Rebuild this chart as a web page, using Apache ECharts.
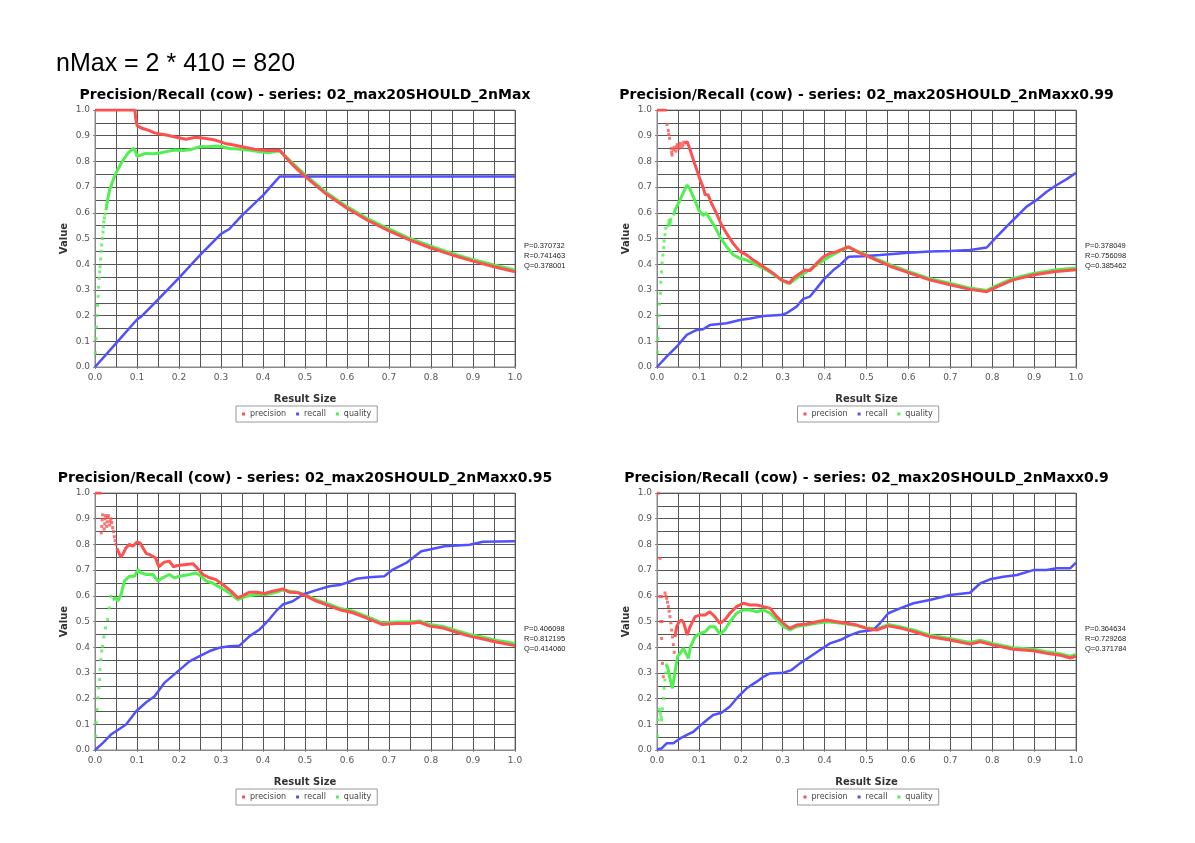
<!DOCTYPE html>
<html>
<head>
<meta charset="utf-8">
<script src="https://cdn.jsdelivr.net/npm/echarts@6/dist/echarts.min.js"></script>
<style>
  html, body { margin: 0; padding: 0; background: #ffffff; }
  #main { width: 1195px; height: 843px; }
</style>
</head>
<body>
<div id="main"></div>
<script>
// ---- headline and chart titles ----
const headline = 'nMax = 2 * 410 = 820';
const chartTitles = [
  'Precision/Recall (cow) - series: 02_max20SHOULD_2nMax',
  'Precision/Recall (cow) - series: 02_max20SHOULD_2nMaxx0.99',
  'Precision/Recall (cow) - series: 02_max20SHOULD_2nMaxx0.95',
  'Precision/Recall (cow) - series: 02_max20SHOULD_2nMaxx0.9'
];
const seriesNames = ['precision', 'recall', 'quality'];

// final P / R / Q values at result size 1.0
const c1Stats = [0.370732, 0.741463, 0.378001];
const c2Stats = [0.378049, 0.756098, 0.385462];
const c3Stats = [0.406098, 0.812195, 0.414060];
const c4Stats = [0.364634, 0.729268, 0.371784];

// ---- chart 1: 2nMax ----
const c1Precision = [[0,1],[0.095,1],[0.097,0.965],[0.1,0.94],[0.105,0.935],[0.11,0.93],[0.12,0.925],[0.13,0.92],[0.14,0.912],[0.15,0.908],[0.17,0.903],[0.193,0.894],[0.217,0.886],[0.24,0.894],[0.26,0.89],[0.286,0.883],[0.31,0.87],[0.33,0.864],[0.35,0.857],[0.38,0.847],[0.41,0.842],[0.43,0.842],[0.44,0.842],[0.46,0.805],[0.48,0.772],[0.5,0.742],[0.55,0.674],[0.6,0.618],[0.65,0.57],[0.7,0.53],[0.75,0.494],[0.8,0.463],[0.85,0.436],[0.9,0.412],[0.95,0.39],[1.0,c1Stats[0]]];
const c1Recall = [[0,0],[0.05,0.092],[0.1,0.185],[0.11,0.196],[0.15,0.262],[0.2,0.347],[0.25,0.435],[0.3,0.518],[0.32,0.537],[0.35,0.59],[0.4,0.668],[0.44,c1Stats[1]],[1.0,c1Stats[1]]];
const c1QualityDots = [[0.001,0.055],[0.0025,0.11],[0.0035,0.155],[0.005,0.2],[0.006,0.24],[0.0075,0.275],[0.0085,0.31],[0.01,0.345],[0.011,0.37],[0.012,0.39],[0.0135,0.42],[0.015,0.45],[0.016,0.475],[0.0175,0.5],[0.019,0.525],[0.02,0.545],[0.021,0.565],[0.0225,0.58],[0.024,0.595]];
const c1Quality = [[0.026,0.61],[0.03,0.65],[0.035,0.69],[0.043,0.727],[0.05,0.755],[0.06,0.786],[0.07,0.812],[0.08,0.835],[0.093,0.852],[0.097,0.835],[0.1,0.82],[0.11,0.825],[0.12,0.831],[0.14,0.83],[0.155,0.833],[0.17,0.838],[0.19,0.844],[0.21,0.842],[0.225,0.845],[0.25,0.857],[0.27,0.857],[0.29,0.86],[0.3,0.858],[0.32,0.85],[0.34,0.848],[0.365,0.844],[0.39,0.838],[0.41,0.834],[0.43,0.838],[0.44,0.84],[0.46,0.81],[0.5,0.748],[0.55,0.68],[0.6,0.624],[0.65,0.576],[0.7,0.537],[0.75,0.5],[0.8,0.47],[0.85,0.442],[0.9,0.418],[0.95,0.397],[1.0,c1Stats[2]]];

// ---- chart 2: 2nMaxx0.99 ----
const c2PrecisionTop = [[0,1],[0.023,1]];
const c2PrecisionDots = [[0.024,0.944],[0.027,0.92],[0.028,0.905],[0.03,0.89],[0.034,0.85],[0.035,0.835],[0.036,0.825],[0.04,0.845],[0.041,0.855],[0.045,0.84],[0.047,0.855],[0.048,0.865],[0.052,0.85],[0.054,0.86],[0.056,0.87],[0.06,0.855],[0.062,0.865],[0.064,0.875]];
const c2Precision = [[0.066,0.87],[0.072,0.877],[0.08,0.84],[0.088,0.8],[0.095,0.767],[0.103,0.728],[0.11,0.7],[0.115,0.67],[0.122,0.67],[0.13,0.637],[0.142,0.598],[0.154,0.553],[0.166,0.52],[0.182,0.48],[0.198,0.449],[0.214,0.436],[0.23,0.416],[0.254,0.39],[0.278,0.364],[0.297,0.338],[0.309,0.332],[0.316,0.326],[0.325,0.345],[0.341,0.364],[0.353,0.377],[0.365,0.375],[0.381,0.403],[0.397,0.429],[0.413,0.442],[0.429,0.449],[0.457,0.468],[0.477,0.449],[0.5,0.432],[0.532,0.41],[0.56,0.39],[0.6,0.367],[0.651,0.339],[0.699,0.32],[0.747,0.302],[0.787,0.293],[0.811,0.312],[0.85,0.339],[0.898,0.358],[0.946,0.371],[1.0,c2Stats[0]]];
const c2Recall = [[0,0],[0.023,0.04],[0.047,0.079],[0.071,0.125],[0.095,0.144],[0.11,0.147],[0.126,0.163],[0.166,0.17],[0.198,0.183],[0.222,0.189],[0.254,0.198],[0.294,0.202],[0.309,0.209],[0.333,0.235],[0.349,0.265],[0.365,0.274],[0.381,0.306],[0.397,0.339],[0.421,0.377],[0.437,0.397],[0.457,0.429],[0.492,0.431],[0.532,0.436],[0.6,0.445],[0.651,0.449],[0.699,0.451],[0.747,0.455],[0.787,0.465],[0.811,0.507],[0.85,0.572],[0.882,0.624],[0.906,0.65],[0.93,0.682],[0.954,0.708],[0.978,0.731],[1.0,c2Stats[1]]];
const c2QualityDots = [[0.001,0.057],[0.002,0.11],[0.003,0.157],[0.005,0.2],[0.006,0.245],[0.008,0.287],[0.009,0.33],[0.011,0.37],[0.012,0.405],[0.014,0.435],[0.016,0.465],[0.017,0.49],[0.019,0.515],[0.021,0.54],[0.027,0.55],[0.028,0.56],[0.029,0.57],[0.031,0.555],[0.032,0.565],[0.033,0.575]];
const c2Quality = [[0.039,0.59],[0.043,0.61],[0.055,0.65],[0.066,0.689],[0.072,0.708],[0.078,0.695],[0.09,0.65],[0.1,0.61],[0.11,0.59],[0.118,0.598],[0.126,0.578],[0.138,0.546],[0.15,0.507],[0.166,0.468],[0.182,0.436],[0.198,0.423],[0.214,0.416],[0.238,0.397],[0.262,0.377],[0.286,0.351],[0.309,0.328],[0.317,0.326],[0.333,0.345],[0.357,0.371],[0.381,0.397],[0.405,0.423],[0.429,0.445],[0.457,0.466],[0.477,0.452],[0.5,0.436],[0.532,0.415],[0.56,0.395],[0.6,0.372],[0.651,0.344],[0.699,0.326],[0.747,0.307],[0.787,0.298],[0.811,0.318],[0.85,0.345],[0.898,0.364],[0.946,0.377],[1.0,c2Stats[2]]];

// ---- chart 3: 2nMaxx0.95 ----
const c3PrecisionTop = [[0,1],[0.015,1]];
const c3PrecisionDots = [[0.015,0.845],[0.016,0.87],[0.017,0.895],[0.018,0.915],[0.022,0.86],[0.023,0.88],[0.024,0.9],[0.025,0.912],[0.028,0.87],[0.029,0.888],[0.03,0.905],[0.032,0.912],[0.035,0.875],[0.036,0.89],[0.038,0.9],[0.04,0.885],[0.042,0.865],[0.044,0.85],[0.046,0.83],[0.048,0.815],[0.05,0.8]];
const c3Precision = [[0.052,0.785],[0.054,0.78],[0.061,0.752],[0.066,0.761],[0.074,0.787],[0.082,0.8],[0.09,0.793],[0.1,0.809],[0.107,0.806],[0.114,0.787],[0.122,0.765],[0.134,0.757],[0.144,0.748],[0.152,0.713],[0.165,0.731],[0.177,0.735],[0.187,0.713],[0.197,0.718],[0.217,0.722],[0.233,0.725],[0.245,0.705],[0.257,0.683],[0.273,0.67],[0.288,0.663],[0.304,0.644],[0.324,0.618],[0.34,0.592],[0.352,0.601],[0.368,0.614],[0.384,0.614],[0.404,0.609],[0.423,0.618],[0.447,0.627],[0.463,0.614],[0.483,0.612],[0.503,0.599],[0.527,0.579],[0.55,0.566],[0.582,0.546],[0.614,0.534],[0.646,0.514],[0.685,0.488],[0.717,0.492],[0.749,0.492],[0.773,0.497],[0.797,0.482],[0.828,0.475],[0.86,0.458],[0.892,0.443],[0.924,0.432],[0.955,0.42],[1.0,c3Stats[0]]];
const c3Recall = [[0,0],[0.019,0.028],[0.038,0.06],[0.058,0.082],[0.074,0.099],[0.098,0.151],[0.122,0.186],[0.142,0.209],[0.165,0.261],[0.193,0.3],[0.225,0.345],[0.249,0.365],[0.273,0.385],[0.296,0.398],[0.32,0.404],[0.344,0.406],[0.368,0.443],[0.392,0.469],[0.411,0.501],[0.431,0.54],[0.447,0.566],[0.471,0.579],[0.495,0.605],[0.527,0.622],[0.558,0.637],[0.582,0.642],[0.598,0.65],[0.622,0.666],[0.653,0.672],[0.689,0.676],[0.709,0.702],[0.741,0.728],[0.777,0.773],[0.797,0.78],[0.832,0.793],[0.892,0.799],[0.924,0.81],[1.0,c3Stats[1]]];
const c3QualityDots = [[0.002,0.054],[0.003,0.106],[0.005,0.158],[0.007,0.203],[0.009,0.242],[0.011,0.274],[0.012,0.313],[0.014,0.352],[0.016,0.385],[0.018,0.404],[0.021,0.44],[0.025,0.475],[0.03,0.508],[0.034,0.553],[0.037,0.598]];
const c3Quality = [[0.042,0.585],[0.05,0.592],[0.054,0.579],[0.062,0.605],[0.07,0.657],[0.082,0.676],[0.094,0.676],[0.102,0.702],[0.11,0.689],[0.122,0.683],[0.138,0.683],[0.15,0.657],[0.161,0.67],[0.177,0.683],[0.189,0.67],[0.201,0.676],[0.225,0.683],[0.241,0.689],[0.253,0.676],[0.265,0.657],[0.28,0.65],[0.3,0.631],[0.32,0.611],[0.34,0.585],[0.36,0.598],[0.384,0.605],[0.408,0.605],[0.431,0.614],[0.447,0.622],[0.479,0.615],[0.503,0.603],[0.527,0.584],[0.55,0.571],[0.582,0.552],[0.614,0.54],[0.646,0.52],[0.685,0.494],[0.717,0.498],[0.749,0.498],[0.773,0.502],[0.797,0.488],[0.828,0.481],[0.86,0.465],[0.892,0.45],[0.924,0.439],[0.955,0.427],[1.0,c3Stats[2]]];

// ---- chart 4: 2nMaxx0.9 ----
const c4PrecisionDots = [[0.003,0.999],[0.007,0.746],[0.007,0.597],[0.011,0.597],[0.009,0.5],[0.012,0.5],[0.011,0.434],[0.013,0.337],[0.015,0.285],[0.019,0.611],[0.021,0.6],[0.023,0.59],[0.025,0.575],[0.027,0.558],[0.029,0.54],[0.031,0.519],[0.033,0.495],[0.035,0.467],[0.037,0.44],[0.039,0.41],[0.041,0.38]];
const c4Precision = [[0.043,0.44],[0.047,0.48],[0.053,0.5],[0.059,0.506],[0.064,0.493],[0.072,0.447],[0.079,0.48],[0.091,0.519],[0.103,0.525],[0.115,0.525],[0.126,0.538],[0.138,0.519],[0.15,0.493],[0.162,0.506],[0.174,0.532],[0.19,0.558],[0.206,0.571],[0.222,0.564],[0.238,0.564],[0.254,0.558],[0.27,0.551],[0.286,0.519],[0.302,0.493],[0.317,0.473],[0.333,0.486],[0.357,0.49],[0.381,0.499],[0.405,0.506],[0.429,0.499],[0.453,0.493],[0.477,0.486],[0.5,0.473],[0.524,0.467],[0.552,0.483],[0.58,0.475],[0.612,0.461],[0.651,0.441],[0.699,0.428],[0.747,0.412],[0.771,0.421],[0.803,0.408],[0.85,0.392],[0.898,0.386],[0.93,0.376],[0.962,0.369],[0.986,0.358],[1.0,c4Stats[0]]];
const c4Recall = [[0,0.003],[0.011,0.006],[0.023,0.026],[0.039,0.026],[0.055,0.045],[0.075,0.062],[0.087,0.071],[0.103,0.095],[0.119,0.117],[0.134,0.136],[0.154,0.145],[0.174,0.169],[0.194,0.208],[0.214,0.24],[0.238,0.266],[0.254,0.285],[0.27,0.298],[0.302,0.301],[0.321,0.311],[0.341,0.337],[0.365,0.363],[0.389,0.389],[0.413,0.415],[0.437,0.428],[0.461,0.447],[0.484,0.46],[0.516,0.467],[0.532,0.493],[0.552,0.532],[0.58,0.551],[0.612,0.571],[0.651,0.584],[0.699,0.603],[0.747,0.612],[0.771,0.648],[0.795,0.664],[0.827,0.674],[0.859,0.681],[0.898,0.7],[0.93,0.7],[0.954,0.707],[0.986,0.707],[1.0,c4Stats[1]]];
const c4QualityDots = [[0.001,0.054],[0.003,0.117],[0.005,0.158],[0.007,0.15],[0.008,0.14],[0.01,0.128],[0.011,0.117],[0.013,0.16],[0.015,0.201],[0.017,0.24],[0.019,0.272],[0.021,0.3],[0.023,0.331]];
const c4Quality = [[0.023,0.331],[0.027,0.311],[0.031,0.279],[0.035,0.25],[0.037,0.24],[0.041,0.285],[0.045,0.324],[0.049,0.363],[0.055,0.376],[0.063,0.396],[0.069,0.376],[0.075,0.357],[0.08,0.402],[0.091,0.441],[0.103,0.454],[0.115,0.46],[0.126,0.48],[0.138,0.48],[0.15,0.451],[0.162,0.467],[0.174,0.499],[0.19,0.532],[0.206,0.545],[0.222,0.545],[0.238,0.538],[0.254,0.545],[0.27,0.532],[0.286,0.506],[0.302,0.48],[0.317,0.467],[0.333,0.48],[0.357,0.486],[0.381,0.493],[0.405,0.499],[0.429,0.495],[0.453,0.49],[0.477,0.484],[0.5,0.476],[0.524,0.471],[0.552,0.488],[0.58,0.48],[0.612,0.467],[0.651,0.447],[0.699,0.434],[0.747,0.418],[0.771,0.427],[0.803,0.414],[0.85,0.398],[0.898,0.392],[0.93,0.382],[0.962,0.375],[0.986,0.365],[1.0,c4Stats[2]]];

// ---- layout and styling ----
const COLORS = { precision: '#ff5050', recall: '#5050ff', quality: '#50f050' };
const panels = [
  { grid: { left: 95, top: 110, width: 420, height: 257 }, stats: c1Stats,
    quality: [c1Quality], qualityDots: c1QualityDots, recall: [c1Recall], precision: [c1Precision], precisionDots: [] },
  { grid: { left: 657, top: 110, width: 419, height: 257 }, stats: c2Stats,
    quality: [c2Quality], qualityDots: c2QualityDots, recall: [c2Recall], precision: [c2PrecisionTop, c2Precision], precisionDots: c2PrecisionDots },
  { grid: { left: 95, top: 493, width: 420, height: 257 }, stats: c3Stats,
    quality: [c3Quality], qualityDots: c3QualityDots, recall: [c3Recall], precision: [c3PrecisionTop, c3Precision], precisionDots: c3PrecisionDots },
  { grid: { left: 657, top: 493, width: 419, height: 257 }, stats: c4Stats,
    quality: [c4Quality], qualityDots: c4QualityDots, recall: [c4Recall], precision: [c4Precision], precisionDots: c4PrecisionDots }
];

const GRID_LINE = { color: '#555555', width: 1 };
const labelFont = { fontFamily: 'DejaVu Sans', fontSize: 9, color: '#555555' };
const axisNameFont = { fontFamily: 'DejaVu Sans', fontWeight: 'bold', fontSize: 10, color: '#333333' };

function makeAxis(i, isX) {
  return {
    type: 'value', gridIndex: i, min: 0, max: 1, interval: 0.1,
    name: isX ? 'Result Size' : 'Value',
    nameLocation: 'middle', nameGap: isX ? 27 : 26,
    nameTextStyle: axisNameFont,
    axisLine: { show: true, onZero: false, lineStyle: { color: '#888888' } },
    axisTick: { show: true, length: 2, lineStyle: { color: '#888888' } },
    axisLabel: Object.assign({ margin: isX ? 6 : 5, formatter: v => v.toFixed(1) }, labelFont),
    splitLine: { show: true, lineStyle: GRID_LINE },
    minorTick: { show: false, splitNumber: 2 },
    minorSplitLine: { show: true, lineStyle: GRID_LINE }
  };
}

function lineSeries(name, data, i) {
  return {
    type: 'line', name, data, xAxisIndex: i, yAxisIndex: i,
    symbol: 'none', showSymbol: false, animation: false, silent: true,
    lineStyle: { color: COLORS[name], width: name === 'recall' ? 2.5 : 3 },
    itemStyle: { color: COLORS[name] }
  };
}
function dotSeries(name, data, i) {
  return {
    type: 'scatter', name, data, xAxisIndex: i, yAxisIndex: i,
    symbol: 'rect', symbolSize: 3, animation: false, silent: true,
    itemStyle: { color: COLORS[name] }
  };
}

const grids = [], xAxes = [], yAxes = [], series = [], legends = [];
const graphics = [{
  type: 'text', x: 56, y: 64,
  style: { text: headline, font: '25px "Liberation Sans", Arial, sans-serif', fill: '#000000', verticalAlign: 'middle' }
}];

panels.forEach((p, i) => {
  grids.push(Object.assign({ show: true, backgroundColor: '#ffffff', borderColor: '#888888', borderWidth: 1 }, p.grid));
  xAxes.push(makeAxis(i, true));
  yAxes.push(makeAxis(i, false));

  p.quality.forEach(d => series.push(lineSeries('quality', d, i)));
  series.push(dotSeries('quality', p.qualityDots, i));
  p.recall.forEach(d => series.push(lineSeries('recall', d, i)));
  p.precision.forEach(d => series.push(lineSeries('precision', d, i)));
  if (p.precisionDots.length) series.push(dotSeries('precision', p.precisionDots, i));

  const cx = p.grid.left + p.grid.width / 2;
  const bottom = p.grid.top + p.grid.height;

  graphics.push({
    type: 'text', x: cx, y: p.grid.top - 15,
    style: { text: chartTitles[i], font: 'bold 14px "DejaVu Sans", Verdana, sans-serif', fill: '#000000', align: 'center', verticalAlign: 'middle' }
  });
  graphics.push({
    type: 'text', x: p.grid.left + p.grid.width + 9, y: p.grid.top + 131,
    style: {
      text: 'P=' + p.stats[0].toFixed(6) + '\nR=' + p.stats[1].toFixed(6) + '\nQ=' + p.stats[2].toFixed(6),
      font: '7.5px "Liberation Sans", Arial, sans-serif', lineHeight: 10, fill: '#222222'
    }
  });

  legends.push({
    data: seriesNames, left: cx - 69, top: bottom + 39,
    orient: 'horizontal', icon: 'rect', itemWidth: 3, itemHeight: 3, itemGap: 10,
    padding: [4, 6], borderColor: '#999999', borderWidth: 1, backgroundColor: '#ffffff',
    textStyle: { fontFamily: 'DejaVu Sans', fontSize: 8, color: '#444444' },
    selectedMode: false
  });
});

const chart = echarts.init(document.getElementById('main'), null, { renderer: 'canvas' });
chart.setOption({
  backgroundColor: '#ffffff',
  animation: false,
  grid: grids,
  xAxis: xAxes,
  yAxis: yAxes,
  legend: legends,
  series: series,
  graphic: graphics
});
</script>
</body>
</html>
